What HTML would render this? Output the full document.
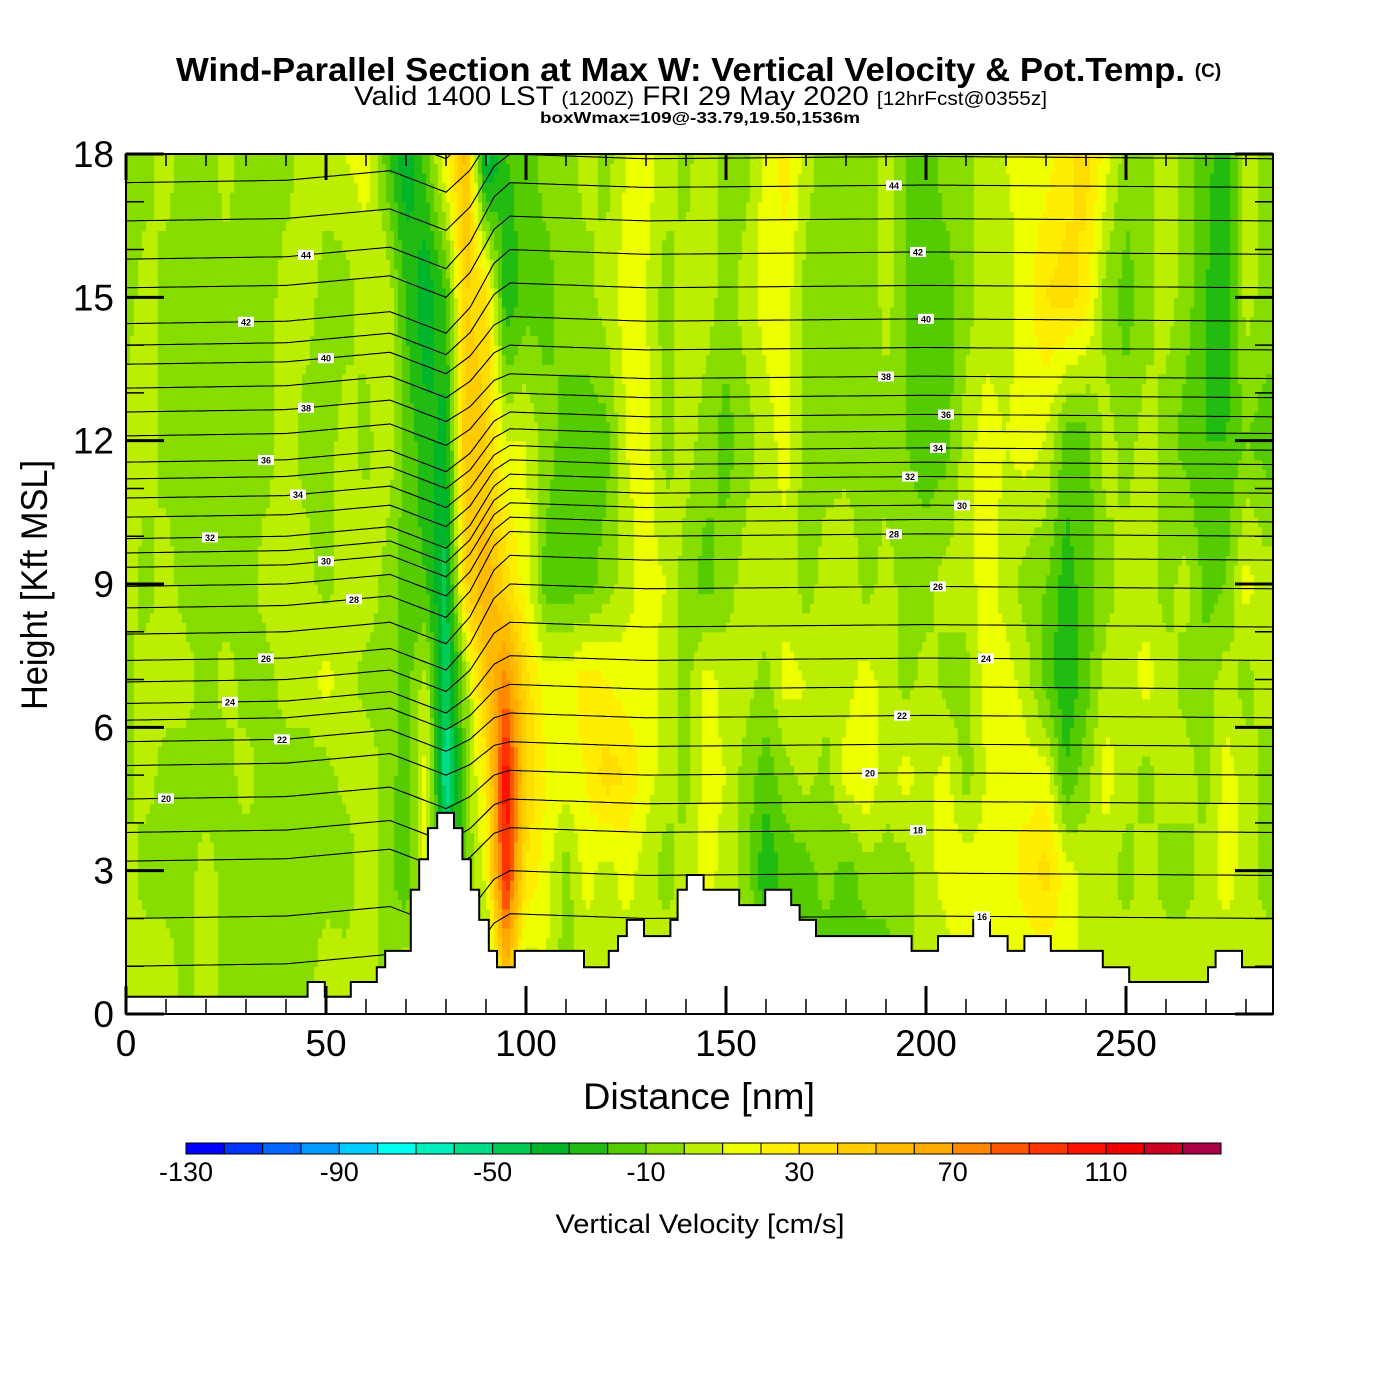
<!DOCTYPE html>
<html><head><meta charset="utf-8"><title>Wind-Parallel Section</title>
<style>
html,body{margin:0;padding:0;background:#fff;}
svg{display:block;font-family:"Liberation Sans",Arial,sans-serif;}
</style></head>
<body>
<svg id="chart" width="1400" height="1400" viewBox="0 0 1400 1400" xmlns="http://www.w3.org/2000/svg">
<defs><clipPath id="plotclip"><rect x="126" y="154" width="1147" height="860"/></clipPath></defs>
<rect x="0" y="0" width="1400" height="1400" fill="#fff"/>
<g>
<text x="176" y="81" font-size="33" font-weight="bold" textLength="1009" lengthAdjust="spacingAndGlyphs">Wind-Parallel Section at Max W: Vertical Velocity &amp; Pot.Temp.</text>
<text x="1208" y="77" font-size="19" font-weight="bold" text-anchor="middle">(C)</text>
<text x="354" y="105" font-size="27" textLength="693" lengthAdjust="spacingAndGlyphs">Valid 1400 LST <tspan font-size="19">(1200Z)</tspan> FRI 29 May 2020 <tspan font-size="19">[12hrFcst@0355z]</tspan></text>
<text x="540" y="123" font-size="16" font-weight="bold" textLength="320" lengthAdjust="spacingAndGlyphs">boxWmax=109@-33.79,19.50,1536m</text>
</g>
<g id="field" clip-path="url(#plotclip)"></g>
<g id="contours" clip-path="url(#plotclip)"></g>
<g id="terrain" clip-path="url(#plotclip)"></g>
<g id="labels"></g>
<rect x="126" y="154" width="1147" height="860" fill="none" stroke="#000" stroke-width="2"/>
<g id="axes"></g>
<g id="colorbar"></g>
<text x="699" y="1109" font-size="37" text-anchor="middle" textLength="232" lengthAdjust="spacingAndGlyphs">Distance [nm]</text>
<text x="0" y="0" font-size="37" text-anchor="middle" textLength="250" lengthAdjust="spacingAndGlyphs" transform="translate(47,585) rotate(-90)">Height [Kft MSL]</text>
<text x="700" y="1233" font-size="27" text-anchor="middle" textLength="289" lengthAdjust="spacingAndGlyphs">Vertical Velocity [cm/s]</text>
</svg>
<script>
// ---- data ----
const colX = [0,5,10,15,20,25,30,35,40,45,50,55,60,65,70,75,80,85,90,95,100,105,110,115,120,125,130,135,140,145,150,155,160,165,170,175,180,185,190,195,200,205,210,215,220,225,230,235,240,245,250,255,260,265,270,275,280,285];
const rowH = [1,3,5,7,9,12,15,18];
const w1  = [5,5,5,-5,5,-5,-5,-5,-5,-5,5,5,5,-5,5,5,5,5,-15,60,5,10,-5,5,5,5,5,5,5,5,5,5,-15,-15,-15,-15,-15,-15,-15,-5,5,5,15,15,15,15,15,15,5,5,5,5,5,5,5,5,5,5];
const w3  = [5,-5,-5,-5,5,-5,-5,-5,-5,-5,-5,-10,10,-5,-20,15,-40,-10,15,105,30,15,-5,15,5,15,5,-5,5,15,5,-5,-30,-15,-15,-5,-15,-5,-5,-5,5,15,15,15,15,25,35,15,5,5,-5,5,-5,-5,5,15,5,-5];
const w5  = [-5,5,-5,-5,-5,-5,5,-5,-5,-5,-5,5,10,-5,-15,15,-60,-5,25,110,40,20,15,20,35,30,15,5,-5,15,10,-5,-15,-5,5,-5,15,20,5,15,5,15,-5,10,20,15,15,-20,-5,15,5,-5,5,5,-5,15,5,-5];
const w7  = [-5,5,5,5,-5,5,-5,-5,5,5,15,5,-5,-5,-15,5,-50,-5,50,75,35,15,15,25,20,15,15,5,-5,15,5,5,-5,15,10,5,5,15,5,-5,5,-5,-5,15,15,5,-15,-30,-15,5,5,15,5,-5,-5,5,-5,5];
const w9  = [5,-5,5,-5,-5,-5,-5,5,5,5,-5,5,10,-5,-15,-20,-45,40,60,35,15,-15,-15,-15,-5,5,15,10,-5,-15,-5,5,10,5,-5,5,10,-5,5,-5,-5,5,5,15,5,-5,-10,-25,-15,-5,5,5,-5,5,-15,-10,15,5];
const w12 = [5,5,-5,-5,-5,-5,-5,-5,5,-5,-5,5,-5,10,-15,-25,-35,50,40,10,10,-5,-15,-15,-15,10,15,-5,5,-5,-15,-5,5,15,-5,-5,-5,-5,-5,-10,-15,-15,5,15,10,15,10,-15,-15,5,-5,5,-5,-15,-20,-20,-10,-15];
const w15 = [-5,5,-5,-5,-5,-5,-5,-5,5,5,-5,-5,5,10,-20,-40,-20,40,35,-30,-15,-15,-5,-5,5,15,10,-5,5,5,-5,5,15,15,-5,-5,-5,-10,5,-10,-15,-15,-5,5,5,15,30,35,25,-5,-15,-5,5,-5,-20,-30,5,-5];
const w18 = [-5,-5,5,-5,-5,5,-5,-5,-5,5,5,10,15,-15,-40,-15,20,55,-50,-20,-15,-5,-5,5,-5,10,15,5,-5,10,-5,-5,15,25,5,-5,-5,-5,5,-10,-15,-5,-5,5,10,15,15,25,35,15,-5,-5,5,-5,-15,-30,5,-5];
const rows = [w1,w3,w5,w7,w9,w12,w15,w18];
const binColors = ["#0000ff","#0033ff","#0066ff","#0099ff","#00ccff","#00ffee","#00eebb","#00dd88","#00cc55","#00b52a","#22bb11","#55cc00","#88dd00","#bbee00","#eeff00","#ffee00","#ffdd00","#ffcc00","#ffbb00","#ffaa00","#ff8800","#ff5500","#ff3300","#ff1100","#ee0000","#cc0022","#aa0044"];
const cbLabels = [-130,-90,-50,-10,30,70,110];
const thetaLevels = [16,17,18,19,20,21,22,23,24,25,26,27,28,29,30,31,32,33,34,35,36,37,38,39,40,41,42,43,44,45,46,47];
const thetaLeft  = [1.0,2.0,3.2,3.8,4.5,5.2,5.7,6.15,6.5,6.95,7.4,7.95,8.5,8.95,9.35,9.65,9.95,10.4,10.8,11.2,11.55,12.1,12.6,13.1,13.6,14.0,14.45,15.2,15.8,16.6,17.4,18.1];
const thetaRight = [2.0,2.9,3.8,4.4,5.0,5.6,6.2,6.8,7.4,8.1,8.9,9.5,10.0,10.3,10.6,10.9,11.2,11.5,11.8,12.15,12.5,12.9,13.3,13.9,14.5,15.2,15.9,16.6,17.3,17.9,18.6,19.3];
const shapeX    = [0,40,66,80,86,92,96,130,200,287];
const shapeW    = [0,0,0,0,0.3,0.8,1,1,1,1];
const shapeBump = [0,0.05,0.25,-0.2,-0.1,0.1,0.1,0,0.05,0];
const terrainX = [0,45.4,49.7,56.2,62.7,64.8,71.2,73.3,75.5,77.8,82,84.1,86.2,88.3,90.7,92.75,97.2,114.5,120.7,123,125.2,129.5,136.1,137.9,140.2,144.4,153.3,159.8,166.3,168.4,172.5,196.4,203,211.8,216,220.4,224.6,231.2,244.2,250.8,270.5,272.4,279];
const terrainH = [0.36,0.67,0.36,0.67,0.98,1.32,2.6,3.24,3.89,4.21,3.89,3.24,2.6,1.97,1.32,0.98,1.32,0.98,1.32,1.63,1.97,1.63,1.97,2.6,2.91,2.6,2.28,2.6,2.28,1.97,1.63,1.32,1.63,1.97,1.63,1.32,1.63,1.32,0.98,0.67,0.98,1.32,0.98];
const labelTheta = [20,22,24,26,28,30,32,34,36,38,40,42,44,16,18,20,22,24,26,28,30,32,34,36,38,40,42,44];
const labelX     = [10,39,26,35,57,50,21,43,35,45,50,30,45,214,198,186,194,215,203,192,209,196,203,205,190,200,198,192];
// ---- scales ----
const X0=126, XPX=4, Y0=1014, YPX=860/18;
const sx = nm => X0 + nm*XPX;
const sy = h => Y0 - h*YPX;
const NS="http://www.w3.org/2000/svg";
function mk(tag, attrs, parent){const e=document.createElementNS(NS,tag);for(const k in attrs)e.setAttribute(k,attrs[k]);parent.appendChild(e);return e;}
function interp(xa, ya, x){if(x<=xa[0])return ya[0];for(let i=1;i<xa.length;i++){if(x<=xa[i]){const t=(x-xa[i-1])/(xa[i]-xa[i-1]);return ya[i-1]+t*(ya[i]-ya[i-1]);}}return ya[ya.length-1];}
function field(nm,h){
  let r=0; if(h<=rowH[0]) return interp(colX,rows[0],nm);
  if(h>=rowH[rowH.length-1]) return interp(colX,rows[rows.length-1],nm);
  while(h>rowH[r+1]) r++;
  const t=(h-rowH[r])/(rowH[r+1]-rowH[r]);
  return interp(colX,rows[r],nm)*(1-t)+interp(colX,rows[r+1],nm)*t;
}
function binIdx(v){return Math.max(0,Math.min(26,Math.floor((v+130)/10)));}
// ---- field ----
const fg=document.getElementById('field');
const DX=1, DY=0.2, NX=287, NY=90;
for(let j=0;j<NY;j++){
  const h=(j+0.5)*DY; let start=0; let cur=binIdx(field(0.5,h));
  for(let i=1;i<=NX;i++){
    const b = i<NX ? binIdx(field(i+0.5,h)) : -1;
    if(b!==cur){
      const r=mk('rect',{x:sx(start*DX).toFixed(1),y:sy((j+1)*DY).toFixed(1),width:((i-start)*DX*XPX+0.6).toFixed(1),height:(DY*YPX+0.6).toFixed(1),fill:binColors[cur]},fg);
      
      
      start=i; cur=b;
    }
  }
}
// ---- contours ----
const cg=document.getElementById('contours');
function thetaH(k,nm){const w=interp(shapeX,shapeW,nm);return thetaLeft[k]*(1-w)+thetaRight[k]*w+interp(shapeX,shapeBump,nm);}
thetaLevels.forEach((lev,k)=>{
  let d='';
  for(let nm=0;nm<=287;nm+=1){d+=(nm?'L':'M')+sx(nm).toFixed(1)+','+sy(thetaH(k,nm)).toFixed(1);}
  const p=mk('path',{d:d,fill:'none',stroke:'#000','stroke-width':1.1},cg);
  
  
});
// ---- terrain ----
const tg=document.getElementById('terrain');
let td='M'+sx(0)+','+Y0;
for(let i=0;i<terrainX.length;i++){
  const x=sx(terrainX[i]), y=sy(terrainH[i]);
  td+=' L'+x.toFixed(1)+','+(i?sy(terrainH[i-1]):y).toFixed(1)+' L'+x.toFixed(1)+','+y.toFixed(1);
}
td+=' L'+sx(287)+','+sy(terrainH[terrainH.length-1]).toFixed(1)+' L'+sx(287)+','+Y0+' Z';
const tp=mk('path',{d:td,fill:'#fff',stroke:'#000','stroke-width':2},tg);


// ---- contour labels ----
const lg=document.getElementById('labels');
labelTheta.forEach((lev,i)=>{
  const k=thetaLevels.indexOf(lev); const nm=labelX[i];
  const x=sx(nm), y=sy(thetaH(k,nm));
  const b=mk('rect',{x:x-8,y:y-5,width:16,height:10,fill:'#fff'},lg);
  
  
  const t=mk('text',{x:x,y:y+3.5,'font-size':9,'font-weight':'bold','text-anchor':'middle'},lg);
  t.textContent=lev;
  
  
});
// ---- axes ----
const ag=document.getElementById('axes');
const xTicks=[0,50,100,150,200,250];
const yTicks=[0,3,6,9,12,15,18];
for(let nm=0;nm<=280;nm+=10){
  const major=nm%50===0; const x=sx(nm);
  const l1=mk('line',{x1:x,y1:Y0,x2:x,y2:Y0-(major?28:15),stroke:'#000','stroke-width':major?3:1.5},ag);
  
  
  const l2=mk('line',{x1:x,y1:154,x2:x,y2:154+(major?26:12),stroke:'#000','stroke-width':major?3:1.5},ag);
  
  
}
xTicks.forEach(v=>{
  const t=mk('text',{x:sx(v),y:1056,'font-size':37,'text-anchor':'middle'},ag);
  t.textContent=v;
  
  
});
for(let h=0;h<=18;h+=1){
  const major=h%3===0; const y=sy(h);
  const l1=mk('line',{x1:126,y1:y,x2:126+(major?38:18),y2:y,stroke:'#000','stroke-width':major?3:1.5},ag);
  
  
  const l2=mk('line',{x1:1273,y1:y,x2:1273-(major?38:18),y2:y,stroke:'#000','stroke-width':major?3:1.5},ag);
  
  
}
yTicks.forEach(v=>{
  const t=mk('text',{x:114,y:sy(v)+13,'font-size':37,'text-anchor':'end'},ag);
  t.textContent=v;
  
  
});
// ---- colorbar ----
const cb=document.getElementById('colorbar');
const CB0=186, CBW=1035/27;
binColors.forEach((c,i)=>{
  const r=mk('rect',{x:(CB0+i*CBW).toFixed(1),y:1143,width:CBW.toFixed(1),height:11,fill:c,stroke:'#000','stroke-width':1},cb);
  
  
});
cbLabels.forEach(v=>{
  const t=mk('text',{x:(CB0+(v+130)/10*CBW).toFixed(1),y:1181,'font-size':27,'text-anchor':'middle'},cb);
  t.textContent=v;
  
  
});
</script>
</body></html>
